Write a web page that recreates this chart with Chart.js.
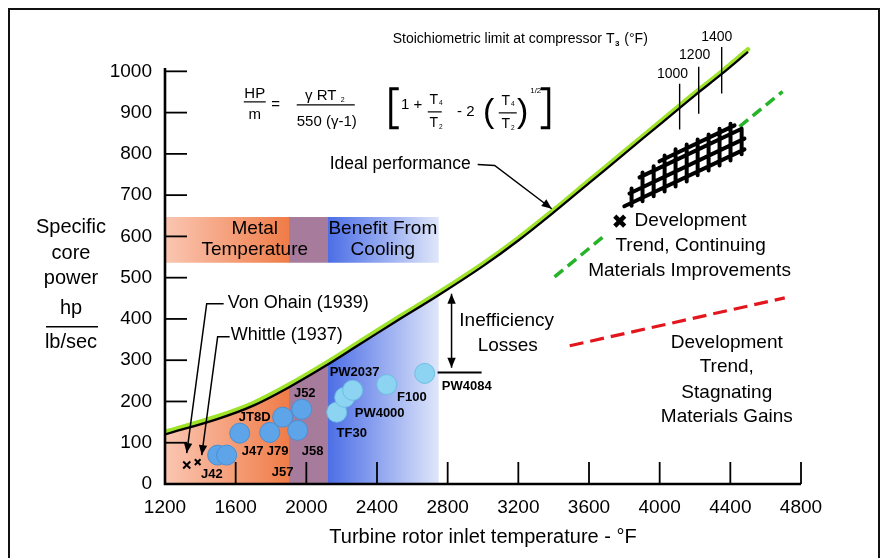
<!DOCTYPE html>
<html><head><meta charset="utf-8">
<script src="https://cdn.jsdelivr.net/npm/chart.js@4.4.1/dist/chart.umd.min.js"></script>
<style>html,body{margin:0;padding:0;background:#fff;overflow:hidden}#wrap{width:884px;height:558px;position:relative}</style>
</head><body><div id="wrap"><canvas id="c"></canvas></div>
<script>
// ---------- DATA ----------
const xTickValues = [1200,1600,2000,2400,2800,3200,3600,4000,4400,4800];
const yTickValues = [0,100,200,300,400,500,600,700,800,900,1000];
const yAxisTop = 1008;

const curveTemp  = [1200,1500,1700,1900,2100,2300,2500,2750,3000,3200,3400,3600,3800,4000,4200,4350,4500];
const curvePower = [120,158,190,234,284,338,392,458,528,590,658,729,800,871,942,993,1047];

const zoneEdges = [1200,1902,2122,2750];
const bandPower = [536,647];

const engineNames = ['J42','J42','J47','J79','JT8D','J52','J58','TF30','PW4000','PW2037','F100','PW4084'];
const engineTemp  = [1498,1549,1623,1793,1866,1974,1951,2172,2217,2262,2455,2670];
const enginePower = [70,70,123,125,162,181,130,174,210,227,241,268];

const pioneerNames = ['Von Ohain (1939)','Whittle (1937)'];
const pioneerTemp  = [1323,1385];
const pioneerPower = [46,53];

const stoichNames = ['1000','1200','1400'];
const stoichTemp  = [4113,4221,4351];
const stoichLow   = [859,897,946];
const stoichHigh  = [970,1011,1059];

const contTrendTemp  = [3405,3700,4452,4696];
const contTrendPower = [502,606,866,951];
const stagTrendTemp  = [3491,4708];
const stagTrendPower = [335,451];

const devMarkTemp = [3774];
const devMarkPower = [637];

const hatchAlongTemp  = [[3800,4480],[3829,4480],[3886,4464],[3999,4424]];
const hatchAlongPower = [[673,811],[704,837],[743,861],[782,869]];
const hatchAcrossTemp = [3841,3903,3966,4028,4090,4153,4215,4277,4339,4401,4464];
const hatchAcrossLow  = [674,685,697,709,721,733,748,760,772,784,799];
const hatchAcrossHigh = [716,755,770,796,811,823,835,847,861,873,860];

const vonOhainLeadTemp  = [1532,1436,1323];
const vonOhainLeadPower = [437,437,75];
const whittleLeadTemp   = [1566,1498,1408];
const whittleLeadPower  = [357,357,70];
const idealLeadTemp     = [2970,3066,3389];
const idealLeadPower    = [774,772,667];
const lossTemp  = [2822,2822];
const lossPower = [461,282];
const lossRefTemp  = [2743,2992];
const lossRefPower = [270,270];

// ---------- LAYOUT / TEXT ----------
const FONT = "'Liberation Sans', Arial, Helvetica, sans-serif";
const notes = [
  {t:'Ideal performance', x:2132, y:774, s:17.5, a:'left'},
  {t:'Metal', x:1708, y:618, s:19}, {t:'Temperature', x:1708, y:567, s:19},
  {t:'Benefit From', x:2433, y:618, s:19}, {t:'Cooling', x:2433, y:567, s:19},
  {t:pioneerNames[0], x:1555, y:439, s:18, a:'left'},
  {t:pioneerNames[1], x:1572, y:362, s:18, a:'left'},
  {t:'Inefficiency', x:3134, y:396, s:19}, {t:'Losses', x:3140, y:335, s:19},
  {t:'Development', x:4175, y:637, s:19}, {t:'Trend, Continuing', x:4175, y:577, s:19},
  {t:'Materials Improvements', x:4169, y:516, s:19},
  {t:'Development', x:4380, y:343, s:19}, {t:'Trend,', x:4380, y:285, s:19},
  {t:'Stagnating', x:4380, y:222, s:19}, {t:'Materials Gains', x:4380, y:162, s:19},
  {t:stoichNames[0], x:4073, y:992, s:14}, {t:stoichNames[1], x:4198, y:1040, s:14},
  {t:stoichNames[2], x:4323, y:1083, s:14},
  {t:'J42', x:1465, y:22, s:13, b:true}, {t:'J47', x:1696, y:80, s:13, b:true},
  {t:'J79', x:1838, y:80, s:13, b:true}, {t:'JT8D', x:1708, y:162, s:13, b:true},
  {t:'J52', x:1991, y:220, s:13, b:true}, {t:'J58', x:2036, y:80, s:13, b:true},
  {t:'J57', x:1866, y:27, s:13, b:true}, {t:'PW2037', x:2273, y:270, s:13, b:true},
  {t:'PW4000', x:2415, y:171, s:13, b:true}, {t:'TF30', x:2257, y:123, s:13, b:true},
  {t:'F100', x:2597, y:210, s:13, b:true}, {t:'PW4084', x:2908, y:236, s:13, b:true}
];
const stoichTitleAt = {x:2489, y:1078};
const formulaAt = {x:1708, y:926};
const yTitleLines = [{t:'Specific', v:622},{t:'core', v:558},{t:'power', v:497},{t:'hp', v:425},{t:'lb/sec', v:343}];
const yTitleBar = 381;

// ---------- HELPERS ----------
const pts = (xs, ys) => xs.map((x, i) => ({x, y: ys[i]}));
function segs(list){ const o=[]; list.forEach(s=>{o.push({x:s[0],y:s[1]},{x:s[2],y:s[3]},{x:s[2],y:null});}); return o; }
const curvePts = pts(curveTemp, curvePower);
const zonePts = curvePts.filter(p => p.x <= zoneEdges[3]);
const contSegs = segs([[contTrendTemp[0],contTrendPower[0],contTrendTemp[1],contTrendPower[1]],
                       [contTrendTemp[2],contTrendPower[2],contTrendTemp[3],contTrendPower[3]]]);
const hatchSegs = segs(
  hatchAlongTemp.map((t,i)=>[t[0],hatchAlongPower[i][0],t[1],hatchAlongPower[i][1]])
  .concat(hatchAcrossTemp.map((t,i)=>[t,hatchAcrossLow[i],t,hatchAcrossHigh[i]])));
const stoichSegs = segs(stoichTemp.map((t,i)=>[t,stoichLow[i],t,stoichHigh[i]]));

function zoneGradient(c){
  const chart = c.chart; const {ctx, chartArea, scales} = chart;
  if (!chartArea) return 'rgba(0,0,0,0)';
  const xs = zoneEdges.map(v => scales.x.getPixelForValue(v));
  const w = xs[3] - xs[0];
  const f1 = (xs[1]-xs[0])/w, f2 = (xs[2]-xs[0])/w;
  const g = ctx.createLinearGradient(xs[0], 0, xs[3], 0);
  g.addColorStop(0, '#fac6b2'); g.addColorStop(f1, '#f07c48');
  g.addColorStop(f1, '#a67b9b'); g.addColorStop(f2, '#a67b9b');
  g.addColorStop(f2, '#4c6ee6'); g.addColorStop(1, '#dfe6fa');
  return g;
}

function arrowHead(ctx, x0, y0, x1, y1){
  const a = Math.atan2(y1-y0, x1-x0), L = 10, W = 4.2;
  ctx.beginPath(); ctx.moveTo(x1, y1);
  ctx.lineTo(x1 - L*Math.cos(a) + W*Math.sin(a), y1 - L*Math.sin(a) - W*Math.cos(a));
  ctx.lineTo(x1 - L*Math.cos(a) - W*Math.sin(a), y1 - L*Math.sin(a) + W*Math.cos(a));
  ctx.closePath(); ctx.fillStyle = '#000'; ctx.fill();
}

function txt(ctx, t, x, y, size, align, bold){
  ctx.font = (bold ? 'bold ' : '') + size + 'px ' + FONT;
  ctx.textAlign = align || 'center'; ctx.textBaseline = 'middle'; ctx.fillStyle = '#000';
  ctx.fillText(t, x, y);
}

const decor = {
  id: 'decor',
  beforeDraw(chart){
    const ctx = chart.ctx; ctx.save();
    ctx.fillStyle = '#fff'; ctx.fillRect(0,0,chart.width,chart.height);
    ctx.strokeStyle = '#111'; ctx.lineWidth = 2; ctx.strokeRect(9, 9, 870, 620);
    ctx.restore();
  },
  beforeDatasetDraw(chart, args){
    const ds = chart.data.datasets[args.index];
    if (ds.shiftY){ chart.ctx.save(); chart.ctx.translate(0, ds.shiftY); }
  },
  afterDatasetDraw(chart, args){
    const ds = chart.data.datasets[args.index];
    if (ds.shiftY) chart.ctx.restore();
  },
  afterDatasetsDraw(chart){
    const ctx = chart.ctx, X = chart.scales.x, Y = chart.scales.y;
    const px = v => X.getPixelForValue(v), py = v => Y.getPixelForValue(v);
    ctx.save();
    ctx.strokeStyle = '#000'; ctx.lineCap = 'butt';
    ctx.lineWidth = 2.6;
    ctx.beginPath(); ctx.moveTo(px(xTickValues[0]), py(yAxisTop)); ctx.lineTo(px(xTickValues[0]), py(0));
    ctx.lineTo(px(xTickValues[xTickValues.length-1]), py(0)); ctx.stroke();
    ctx.lineWidth = 1.8;
    yTickValues.forEach(v => { if (v === 0) return; ctx.beginPath(); ctx.moveTo(px(xTickValues[0]), py(v)); ctx.lineTo(px(xTickValues[0]) + 22, py(v)); ctx.stroke(); });
    xTickValues.forEach(v => { if (v === xTickValues[0]) return; ctx.beginPath(); ctx.moveTo(px(v), py(0)); ctx.lineTo(px(v), py(0) - 22); ctx.stroke(); });
    chart.data.datasets.forEach((ds, i) => {
      if (!ds.arrowEnd && !ds.arrowStart) return;
      const d = chart.getDatasetMeta(i).data; const n = d.length;
      if (ds.arrowEnd) arrowHead(ctx, d[n-2].x, d[n-2].y, d[n-1].x, d[n-1].y);
      if (ds.arrowStart) arrowHead(ctx, d[1].x, d[1].y, d[0].x, d[0].y);
    });
    notes.forEach(n => txt(ctx, n.t, px(n.x), py(n.y), n.s, n.a, n.b));
    let sx = px(stoichTitleAt.x); const sy = py(stoichTitleAt.y);
    ctx.font = '14px ' + FONT; ctx.textAlign = 'left'; ctx.textBaseline = 'middle';
    const s1 = 'Stoichiometric limit at compressor T';
    ctx.fillText(s1, sx, sy); sx += ctx.measureText(s1).width;
    ctx.font = 'bold 8px ' + FONT; ctx.fillText('3', sx + 0.5, sy + 5); sx += 6;
    ctx.font = '14px ' + FONT; ctx.fillText(' (°F)', sx, sy);
    const ax = px(formulaAt.x), ay = py(formulaAt.y);
    ctx.lineWidth = 1.2;
    const bar = (x0, x1, y) => { ctx.beginPath(); ctx.moveTo(ax+x0, ay+y); ctx.lineTo(ax+x1, ay+y); ctx.stroke(); };
    txt(ctx, 'HP', ax, ay-8, 15); bar(-11, 11, 0); txt(ctx, 'm', ax, ay+13, 15);
    txt(ctx, '=', ax+21, ay+3, 15);
    txt(ctx, 'γ RT', ax+66, ay-6, 15); txt(ctx, '2', ax+88, ay-2, 7);
    bar(42, 100, 3); txt(ctx, '550 (γ-1)', ax+72, ay+20, 15);
    ctx.lineWidth = 3;
    ctx.beginPath(); ctx.moveTo(ax+144, ay-13); ctx.lineTo(ax+136, ay-13); ctx.lineTo(ax+136, ay+26); ctx.lineTo(ax+144, ay+26); ctx.stroke();
    ctx.beginPath(); ctx.moveTo(ax+286, ay-13); ctx.lineTo(ax+294, ay-13); ctx.lineTo(ax+294, ay+26); ctx.lineTo(ax+286, ay+26); ctx.stroke();
    ctx.lineWidth = 1.2;
    txt(ctx, '1 +', ax+157, ay+3, 15);
    txt(ctx, 'T', ax+179, ay-2, 14); txt(ctx, '4', ax+186, ay+1, 6.5);
    bar(173, 187, 10);
    txt(ctx, 'T', ax+179, ay+21, 14); txt(ctx, '2', ax+186, ay+25, 6.5);
    txt(ctx, '- 2', ax+211, ay+10, 15);
    ctx.font = '34px ' + FONT; ctx.textAlign = 'center'; ctx.textBaseline = 'middle';
    ctx.fillText('(', ax+234, ay+11); ctx.fillText(')', ax+268, ay+11);
    txt(ctx, 'T', ax+251, ay-1, 14); txt(ctx, '4', ax+258, ay+2, 6.5);
    bar(244, 262, 11);
    txt(ctx, 'T', ax+251, ay+22, 14); txt(ctx, '2', ax+258, ay+26, 6.5);
    txt(ctx, '1/2', ax+281, ay-11, 8);
    const tx = chart.chartArea.left - 94;
    yTitleLines.forEach(l => txt(ctx, l.t, tx, py(l.v), 20));
    ctx.lineWidth = 1.6; ctx.beginPath(); ctx.moveTo(tx-25, py(yTitleBar)); ctx.lineTo(tx+27, py(yTitleBar)); ctx.stroke();
    ctx.restore();
  }
};

const leader = (xs, ys, extra) => Object.assign({data: pts(xs, ys), borderColor:'#000', borderWidth:1.5, pointRadius:0, order:6}, extra||{});

new Chart(document.getElementById('c'), {
  type: 'line',
  data: { datasets: [
    {label:'zone', data: zonePts, fill:'origin', backgroundColor: zoneGradient, borderWidth:0, borderColor:'rgba(0,0,0,0)', pointRadius:0, tension:0.35, order:20},
    {label:'band', data: pts([zoneEdges[0], zoneEdges[3]], [bandPower[1], bandPower[1]]), fill:{value: bandPower[0]}, backgroundColor: zoneGradient, borderWidth:0, borderColor:'rgba(0,0,0,0)', pointRadius:0, order:20},
    {label:'ideal-hi', data: curvePts, borderColor:'#9fe22a', borderWidth:4.5, shiftY:-2.6, pointRadius:0, tension:0.35, borderCapStyle:'round', order:12},
    {label:'ideal', data: curvePts, borderColor:'#000', borderWidth:2.3, pointRadius:0, tension:0.35, order:11},
    {label:'continuing', data: contSegs, borderColor:'#25b428', borderWidth:3.5, borderDash:[11,6], pointRadius:0, order:10},
    {label:'stagnating', data: pts(stagTrendTemp, stagTrendPower), borderColor:'#e3161e', borderWidth:3.2, borderDash:[14,7], pointRadius:0, order:10},
    {label:'hatch', data: hatchSegs, borderColor:'#000', borderWidth:4, borderCapStyle:'round', pointRadius:0, order:9},
    {label:'stoich', data: stoichSegs, borderColor:'#000', borderWidth:1.4, pointRadius:0, order:9},
    leader(vonOhainLeadTemp, vonOhainLeadPower, {arrowEnd:true}),
    leader(whittleLeadTemp, whittleLeadPower, {arrowEnd:true}),
    leader(idealLeadTemp, idealLeadPower, {arrowEnd:true}),
    leader(lossTemp, lossPower, {arrowEnd:true, arrowStart:true}),
    leader(lossRefTemp, lossRefPower, {borderWidth:2}),
    {label:'engines', data: pts(engineTemp, enginePower), showLine:false, pointRadius:10,
      pointBackgroundColor: c => (c.raw && c.raw.x < zoneEdges[2]) ? '#5da5e8' : '#8cd4f1',
      pointBorderColor: c => (c.raw && c.raw.x < zoneEdges[2]) ? '#4a8fd4' : '#6cbfe2',
      pointBorderWidth:1, order:3},
    {label:'pioneers', data: pts(pioneerTemp, pioneerPower), showLine:false, pointStyle:'crossRot', pointRadius:[5,4], pointBorderColor:'#000', pointBorderWidth:2, order:2},
    {label:'devMark', data: pts(devMarkTemp, devMarkPower), showLine:false, pointStyle:'crossRot', pointRadius:7, pointBorderColor:'#000', pointBorderWidth:4.5, order:2}
  ]},
  options: {
    responsive: true, maintainAspectRatio: false, animation: false, devicePixelRatio: 1,
    layout: { padding: {left:0, right:83, top:0, bottom:0} },
    plugins: { legend:{display:false}, tooltip:{enabled:false} },
    elements: { point: { radius: 0 }, line: { tension: 0 } },
    scales: {
      x: { type:'linear', min: xTickValues[0], max: xTickValues[xTickValues.length-1],
        afterBuildTicks: s => { s.ticks = xTickValues.map(v => ({value:v})); },
        afterFit: s => { s.height = 74; },
        grid: { display:false, drawTicks:false }, border: { display:false },
        ticks: { padding: 12, color:'#000', font:{family:FONT, size:19}, maxRotation:0, autoSkip:false, callback: v => String(v) },
        title: { display:true, text:'Turbine rotor inlet temperature - °F', color:'#000', font:{family:FONT, size:20}, padding:{top:0, bottom:9} } },
      y: { type:'linear', min:0, max:1145,
        afterBuildTicks: s => { s.ticks = yTickValues.map(v => ({value:v})); },
        afterFit: s => { s.width = 165; s.paddingTop = 0; s.paddingBottom = 0; },
        grid: { display:false, drawTicks:false }, border: { display:false },
        ticks: { padding: 13, color:'#000', font:{family:FONT, size:19}, autoSkip:false, callback: v => String(v) } }
    }
  },
  plugins: [decor]
});
</script></body></html>
